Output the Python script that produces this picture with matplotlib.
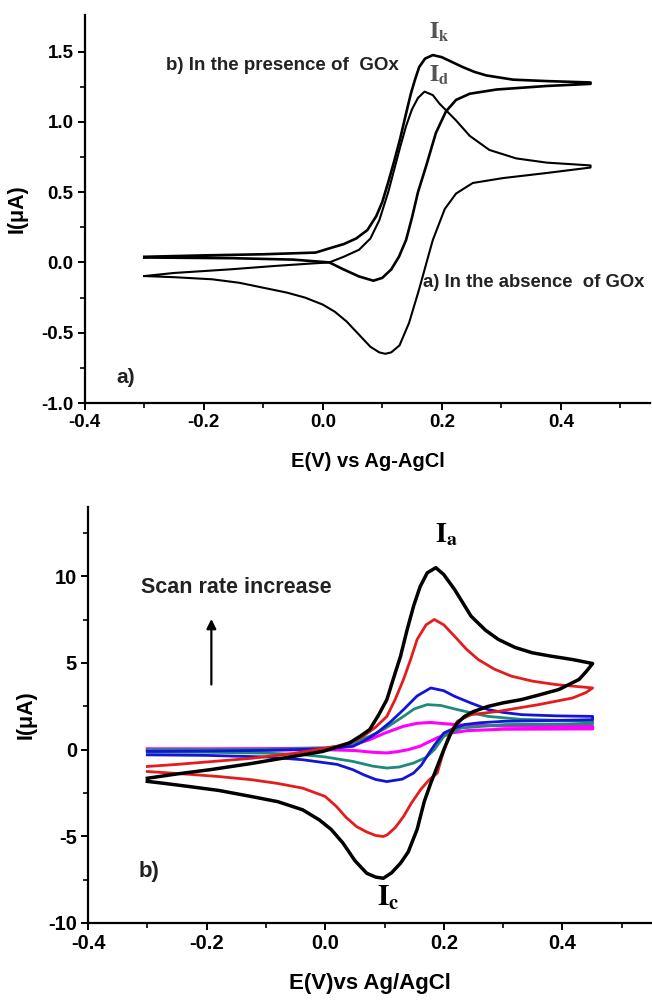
import numpy as np
import matplotlib.pyplot as plt

plt.rcParams['font.family'] = ['Liberation Sans', 'DejaVu Sans']
plt.rcParams['font.weight'] = 'bold'
plt.rcParams['mathtext.fontset'] = 'stix'
plt.rcParams['axes.unicode_minus'] = False

# ---- panel a) : without / with GOx  (E in V, I in uA)
a_fwd_E = [-0.3, -0.25, -0.158, -0.08, -0.02, 0.011, 0.035, 0.061, 0.08, 0.095, 0.11, 0.12, 0.13, 0.14,
           0.15, 0.16, 0.171, 0.185, 0.196, 0.21, 0.224, 0.247, 0.28, 0.325, 0.376, 0.45]
a_fwd_I = [-0.097, -0.075, -0.05, -0.025, -0.008, 0.0, 0.04, 0.09, 0.17, 0.3, 0.5, 0.66, 0.82, 0.97,
           1.09, 1.17, 1.215, 1.19, 1.13, 1.07, 1.01, 0.9, 0.8, 0.74, 0.71, 0.69]
a_rev_E = [0.45, 0.376, 0.303, 0.252, 0.224, 0.205, 0.185, 0.179, 0.162, 0.145, 0.129, 0.115, 0.105,
           0.095, 0.08, 0.06, 0.04, 0.02, 0.0, -0.03, -0.06, -0.1, -0.14, -0.186, -0.25, -0.3]
a_rev_I = [0.675, 0.636, 0.6, 0.565, 0.49, 0.38, 0.16, 0.07, -0.19, -0.43, -0.59, -0.64, -0.65,
           -0.64, -0.6, -0.51, -0.42, -0.35, -0.3, -0.25, -0.215, -0.18, -0.145, -0.12, -0.105, -0.097]

b_fwd_E = [-0.3, -0.2, -0.1, -0.012, 0.011, 0.035, 0.056, 0.075, 0.09, 0.1, 0.11, 0.12, 0.13, 0.14,
           0.148, 0.155, 0.162, 0.172, 0.185, 0.2, 0.22, 0.235, 0.255, 0.275, 0.32, 0.376, 0.45]
b_fwd_I = [0.04, 0.05, 0.058, 0.07, 0.1, 0.13, 0.17, 0.23, 0.33, 0.43, 0.57, 0.72, 0.88, 1.06,
           1.2, 1.3, 1.39, 1.45, 1.475, 1.46, 1.42, 1.39, 1.355, 1.33, 1.3, 1.29, 1.28]
b_rev_E = [0.45, 0.376, 0.292, 0.247, 0.224, 0.207, 0.19, 0.174, 0.16, 0.15, 0.14, 0.128, 0.115,
           0.1, 0.085, 0.061, 0.035, 0.011, -0.05, -0.15, -0.3]
b_rev_I = [1.27, 1.255, 1.23, 1.2, 1.156, 1.074, 0.92, 0.69, 0.5, 0.32, 0.16, 0.04, -0.05,
           -0.11, -0.13, -0.1, -0.05, 0.0, 0.02, 0.03, 0.035]

# ---- panel b) : scan rate series
blk_E = [-0.3, -0.25, -0.195, -0.125, -0.054, -0.004, 0.02, 0.041, 0.06, 0.075, 0.09, 0.104, 0.115,
         0.127, 0.138, 0.149, 0.16, 0.172, 0.1865, 0.2, 0.218, 0.246, 0.27, 0.292, 0.32, 0.349, 0.38,
         0.417, 0.451,
         0.44, 0.428, 0.394, 0.36, 0.331, 0.3, 0.275, 0.25, 0.235, 0.222, 0.212, 0.2, 0.189, 0.178,
         0.167, 0.155, 0.14, 0.127, 0.112, 0.098, 0.085, 0.07, 0.05, 0.03, 0.01, -0.01, -0.038,
         -0.08, -0.125, -0.18, -0.231, -0.27, -0.3]
blk_I = [-1.65, -1.4, -1.16, -0.8, -0.39, -0.1, 0.15, 0.39, 0.8, 1.16, 2.0, 2.89, 4.1,
         5.39, 6.9, 8.28, 9.4, 10.2, 10.5, 10.1, 9.25, 7.7, 6.9, 6.36, 5.9, 5.59, 5.4,
         5.2, 4.97,
         4.5, 4.05, 3.47, 3.15, 2.89, 2.7, 2.5, 2.2, 1.92, 1.5, 0.96, 0.0, -0.97, -1.93,
         -3.0, -4.6, -5.9, -6.55, -7.1, -7.42, -7.35, -7.13, -6.4, -5.39, -4.6, -4.05, -3.47,
         -3.0, -2.7, -2.35, -2.12, -1.95, -1.83]

red_E = [-0.3, -0.25, -0.196, -0.125, -0.054, 0.019, 0.045, 0.064, 0.085, 0.104, 0.118, 0.132, 0.145,
         0.155, 0.17, 0.184, 0.2, 0.218, 0.238, 0.258, 0.285, 0.314, 0.35, 0.388, 0.451,
         0.44, 0.417, 0.39, 0.36, 0.325, 0.292, 0.265, 0.246, 0.223, 0.213, 0.206, 0.197, 0.189,
         0.175, 0.161, 0.145, 0.132, 0.118, 0.105, 0.098, 0.085, 0.07, 0.053, 0.035, 0.019, 0.0,
         -0.038, -0.08, -0.125, -0.18, -0.23, -0.3]
red_I = [-0.97, -0.85, -0.7, -0.5, -0.22, 0.19, 0.45, 0.77, 1.3, 1.92, 2.9, 4.05, 5.3,
         6.36, 7.2, 7.51, 7.2, 6.55, 5.8, 5.2, 4.65, 4.24, 3.95, 3.76, 3.56,
         3.3, 2.98, 2.8, 2.6, 2.4, 2.21, 2.1, 2.02, 1.64, 1.1, 0.58, -0.4, -1.35,
         -1.75, -2.3, -3.1, -3.86, -4.5, -4.9, -5.01, -4.95, -4.75, -4.44, -3.9, -3.28, -2.7,
         -2.22, -1.95, -1.73, -1.55, -1.42, -1.26]

blu_E = [-0.3, -0.2, -0.1, 0.0, 0.047, 0.065, 0.087, 0.11, 0.132, 0.155, 0.178, 0.2, 0.218, 0.245,
         0.275, 0.3, 0.331, 0.39, 0.451,
         0.451, 0.38, 0.303, 0.26, 0.235, 0.215, 0.2, 0.185, 0.175, 0.162, 0.149, 0.13, 0.104,
         0.085, 0.065, 0.047, 0.02, -0.038, -0.1, -0.2, -0.3]
blu_I = [-0.1, -0.08, -0.04, 0.05, 0.19, 0.5, 0.96, 1.6, 2.31, 3.1, 3.56, 3.4, 3.08, 2.7,
         2.31, 2.15, 2.02, 1.95, 1.92,
         1.73, 1.68, 1.64, 1.55, 1.45, 1.2, 0.96, 0.3, -0.2, -0.9, -1.35, -1.7, -1.84,
         -1.72, -1.45, -1.16, -0.85, -0.58, -0.42, -0.33, -0.3]

tea_E = [-0.3, -0.2, -0.1, 0.0, 0.04, 0.075, 0.1, 0.132, 0.15, 0.172, 0.195, 0.223, 0.25, 0.275,
         0.33, 0.451,
         0.451, 0.303, 0.229, 0.2, 0.184, 0.17, 0.149, 0.125, 0.104, 0.08, 0.047, 0.0, -0.038,
         -0.1, -0.2, -0.3]
tea_I = [0.0, 0.0, 0.02, 0.1, 0.3, 0.77, 1.2, 1.92, 2.35, 2.6, 2.55, 2.31, 2.1, 1.92,
         1.75, 1.64,
         1.5, 1.45, 1.25, 0.77, 0.0, -0.45, -0.77, -1.0, -1.06, -0.95, -0.68, -0.42, -0.29,
         -0.2, -0.15, -0.15]

mag_E = [-0.3, -0.2, -0.1, 0.019, 0.05, 0.075, 0.1, 0.132, 0.155, 0.178, 0.2, 0.23, 0.3, 0.451,
         0.451, 0.3, 0.24, 0.21, 0.19, 0.16, 0.14, 0.121, 0.104, 0.08, 0.05, 0.0, -0.1, -0.3]
mag_I = [0.05, 0.05, 0.06, 0.1, 0.3, 0.58, 0.95, 1.35, 1.52, 1.57, 1.5, 1.42, 1.37, 1.35,
         1.2, 1.18, 1.1, 0.95, 0.7, 0.2, 0.0, -0.12, -0.19, -0.15, -0.05, 0.0, -0.02, -0.02]

fig = plt.figure(figsize=(6.52, 10), dpi=100)
ax1 = fig.add_axes([0.1300, 0.597, 0.867, 0.388])
ax2 = fig.add_axes([0.135, 0.077, 0.864, 0.416])

for ax, ts in ((ax1, 13.5), (ax2, 14.5)):
    ax.spines['top'].set_visible(False)
    ax.spines['right'].set_visible(False)
    ax.spines['left'].set_linewidth(1.6)
    ax.spines['bottom'].set_linewidth(1.6)
    ax.set_xlim(-0.4, 0.55)
    ax.set_xticks([-0.4, -0.2, 0.0, 0.2, 0.4])
    ax.set_xticks([-0.3, -0.1, 0.1, 0.3, 0.5], minor=True)
    ax.xaxis.set_major_formatter(plt.FormatStrFormatter('%.1f'))
    ax.tick_params(which='major', direction='out', length=5, width=1.4, labelsize=ts, pad=3)
    ax.tick_params(which='minor', direction='out', length=3.5, width=1.2)

# top panel
ax1.plot(a_fwd_E + a_rev_E, a_fwd_I + a_rev_I, color='black', lw=1.5)
ax1.plot(b_fwd_E + b_rev_E, b_fwd_I + b_rev_I, color='black', lw=1.9)
ax1.set_ylim(-1.0, 1.76)
ax1.set_yticks([-1.0, -0.5, 0.0, 0.5, 1.0, 1.5])
ax1.set_yticks([-0.75, -0.25, 0.25, 0.75, 1.25], minor=True)
ax1.yaxis.set_major_formatter(plt.FormatStrFormatter('%.1f'))
for lab in ax1.get_yticklabels() + ax1.get_xticklabels():
    lab.set_fontweight('bold')
ax1.set_xlabel('E(V) vs Ag-AgCl', fontsize=14.5, fontweight='bold', labelpad=15)
ax1.set_ylabel('I(\u03bcA)', fontsize=15.5, fontweight='bold', labelpad=10)
ax1.text(-0.264, 1.40, 'b) In the presence of  GOx', fontsize=13.5, fontweight='bold',
         va='center', color='#222222')
ax1.text(0.169, -0.142, 'a) In the absence  of GOx', fontsize=13.3, fontweight='bold',
         va='center', color='#222222')
ax1.text(-0.347, -0.816, 'a)', fontsize=15, fontweight='bold', va='center', color='#222222')
ax1.text(0.179, 1.64, r'$\mathrm{I}_{\mathrm{k}}$', fontsize=17, color='#555555',
         ha='left', va='center')
ax1.text(0.179, 1.33, r'$\mathrm{I}_{\mathrm{d}}$', fontsize=17, color='#555555',
         ha='left', va='center')

# bottom panel
ax2.plot(mag_E, mag_I, color='#ff00ff', lw=2.2)
ax2.plot(tea_E, tea_I, color='#1f8a7a', lw=2.0)
ax2.plot(blu_E, blu_I, color='#1414d8', lw=2.0)
ax2.plot(red_E, red_I, color='#e51c1c', lw=2.0)
ax2.plot(blk_E, blk_I, color='black', lw=2.5)
ax2.set_ylim(-10, 14)
ax2.set_yticks([-10, -5, 0, 5, 10])
ax2.set_yticks([-7.5, -2.5, 2.5, 7.5, 12.5], minor=True)
for lab in ax2.get_yticklabels() + ax2.get_xticklabels():
    lab.set_fontweight('bold')
ax2.set_xlabel('E(V)vs Ag/AgCl', fontsize=16, fontweight='bold', labelpad=14)
ax2.set_ylabel('I(\u03bcA)', fontsize=15.5, fontweight='bold', labelpad=8)
ax2.text(-0.31, 9.36, 'Scan rate increase', fontsize=15.5, fontweight='bold', va='center',
         color='#222222')
ax2.text(-0.315, -7.05, 'b)', fontsize=16, fontweight='bold', va='center', color='#222222')
ax2.annotate('', xy=(-0.192, 7.7), xytext=(-0.192, 3.6),
             arrowprops=dict(arrowstyle='-|>', color='black', lw=1.6, mutation_scale=14))
ax2.text(0.185, 12.4, r'$\mathbf{I}_{\mathbf{a}}$', fontsize=20, ha='left', va='center')
ax2.text(0.088, -8.55, r'$\mathbf{I}_{\mathbf{c}}$', fontsize=21, ha='left', va='center')

fig.savefig('out.png', dpi=100)
